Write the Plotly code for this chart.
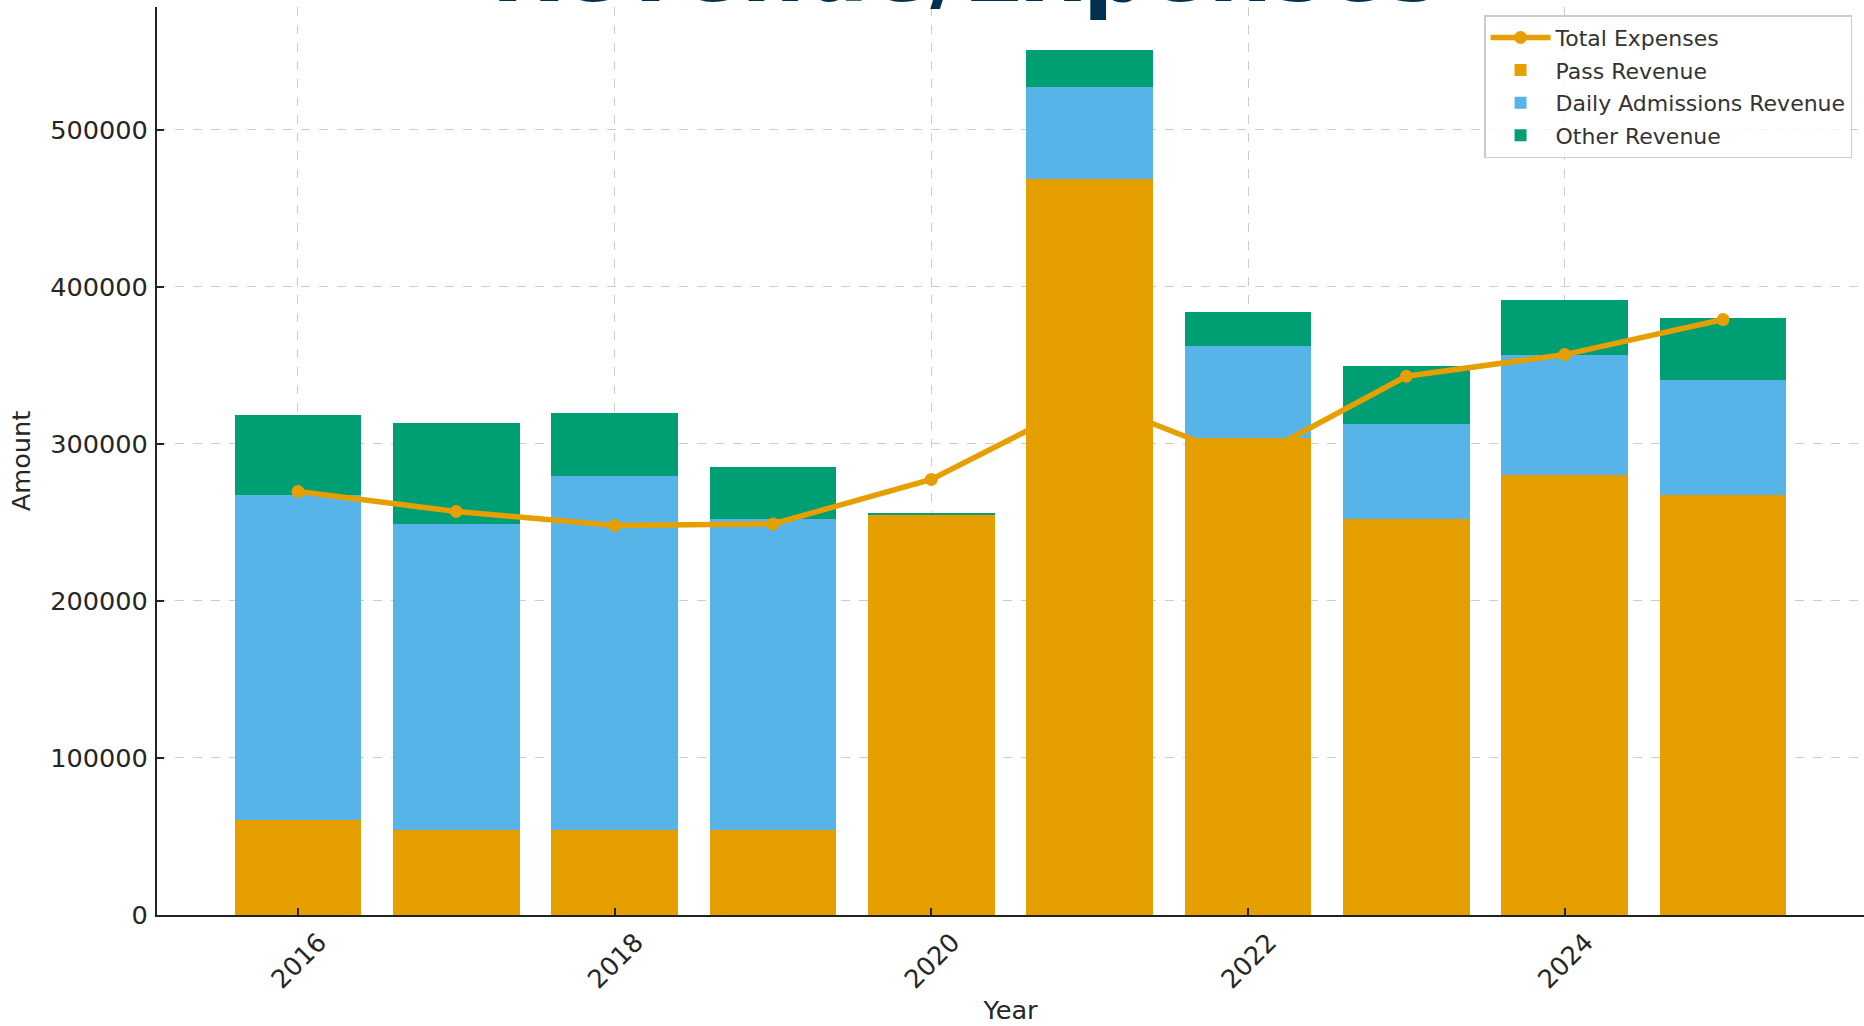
import plotly.graph_objects as go

years = [2016, 2017, 2018, 2019, 2020, 2021, 2022, 2023, 2024, 2025]
pass_revenue = [60200, 54000, 54400, 54000, 255000, 468300, 303700, 252000, 280400, 267700]
daily_revenue = [206900, 195000, 225400, 198200, 0, 58700, 58400, 60300, 76200, 73200]
other_revenue = [51300, 64300, 39700, 32900, 800, 23500, 22100, 37300, 35100, 39300]
total_expenses = [269600, 256900, 248000, 249000, 277300, 328500, 289000, 343000, 356800, 379100]

x_ticks = [2016, 2018, 2020, 2022, 2024]
y_ticks = [0, 100000, 200000, 300000, 400000, 500000]

ORANGE = "#E69F00"
BLUE = "#56B4E9"
GREEN = "#009E73"
FONT = "DejaVu Sans"

fig = go.Figure()
fig.add_trace(go.Scatter(
    x=years, y=total_expenses, name="Total Expenses", mode="lines+markers",
    line=dict(color=ORANGE, width=5.5), marker=dict(color=ORANGE, size=13),
    legendgroup="a",
))
for name, vals, col, grp in [("Pass Revenue", pass_revenue, ORANGE, "b"),
                             ("Daily Admissions Revenue", daily_revenue, BLUE, "c"),
                             ("Other Revenue", other_revenue, GREEN, "d")]:
    fig.add_trace(go.Bar(x=years, y=vals, name=name, width=0.8,
                         marker=dict(color=col, line=dict(width=0)), legendgroup=grp))

axis_common = dict(
    showline=True, linecolor="#222222", linewidth=2,
    ticks="inside", ticklen=7, tickwidth=1.5, tickcolor="#222222",
    showgrid=True, gridcolor="#cccccc", griddash="dash", gridwidth=1,
    zeroline=False, automargin=False,
    tickfont=dict(family=FONT, size=25.6, color="#262626"),
)

fig.update_layout(
    width=1864, height=1026,
    paper_bgcolor="white", plot_bgcolor="white",
    margin=dict(l=157, r=0, t=7, b=111),
    barmode="stack", bargap=0.2,
    font=dict(family=FONT, color="#262626"),
    showlegend=True,
    legend=dict(
        x=0.993, y=0.991, xanchor="right", yanchor="top",
        bgcolor="rgba(255,255,255,0.8)", bordercolor="#cccccc", borderwidth=1.5,
        font=dict(family=FONT, size=22, color="#333333"),
        traceorder="grouped", tracegroupgap=1, itemwidth=60,
    ),
    xaxis=dict(
        range=[2015.11, 2025.89], tickvals=x_ticks, tickangle=-45,
        ticklabelshift=21, ticklabelstandoff=0,
        title=dict(text="Year", font=dict(family=FONT, size=25.6, color="#262626"), standoff=8),
        **axis_common,
    ),
    yaxis=dict(
        range=[0, 578100], tickvals=y_ticks, tickformat="d",
        ticklabelstandoff=2,
        title=dict(text="Amount", font=dict(family=FONT, size=25.6, color="#262626"), standoff=12),
        **axis_common,
    ),
    annotations=[dict(
        text="<b>Revenue/Expenses</b>", xref="paper", yref="paper",
        x=0.4736, y=0.9812, xanchor="center", yanchor="bottom", showarrow=False,
        font=dict(family=FONT, size=90, color="#00304F"),
    )],
)

# the page body has a default 8px margin; drop it so the figure fills the window
fig.write_html("out.html", config={"displayModeBar": False},
               post_script="document.body.style.margin = '0';")
